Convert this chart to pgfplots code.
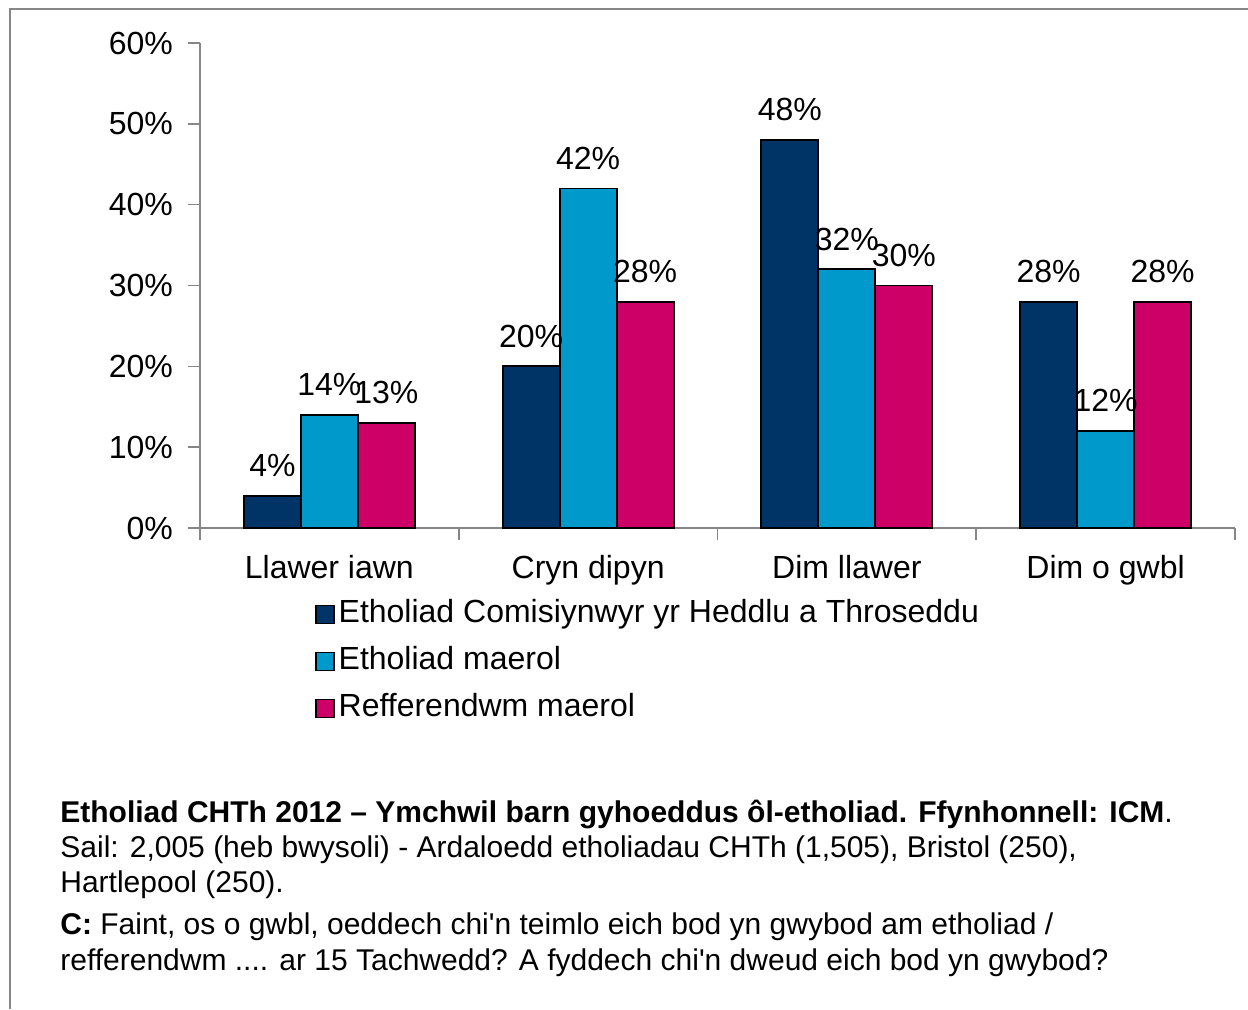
\documentclass[border=0pt]{standalone}
\usepackage{fontspec}
\setmainfont{Liberation Sans}
\newfontfamily\ftfont{Liberation Sans}
\usepackage{pgfplots}
\pgfplotsset{compat=1.18}
\definecolor{navyb}{RGB}{0,51,102}
\definecolor{cyanb}{RGB}{0,153,204}
\definecolor{magb}{RGB}{204,0,102}
\definecolor{axgray}{RGB}{134,134,134}
\pgfplotsset{
  sqbar/.style={fill=#1, draw=black, line width=0.9pt,
    legend image code/.code={\draw[fill=#1, draw=black, line width=0.8pt] (0pt,-4.5pt) rectangle (9pt,4.5pt);}},
}

\begin{document}
\begin{tikzpicture}
\path[use as bounding box] (0,0) rectangle (624pt,504.5pt);
\draw[axgray, line width=1pt] (5pt,0) -- (5pt,500pt) -- (624pt,500pt);

\begin{axis}[
  at={(100pt,240.5pt)}, anchor=south west,
  scale only axis, width=517.5pt, height=242.5pt,
  font=\fontsize{16}{19}\selectfont,
  ybar=0pt, bar width=28.5pt,
  xmin=-0.5, xmax=3.5, ymin=0, ymax=60,
  axis x line=bottom, axis y line=left,
  axis line style={axgray, -, line width=0.8pt},
  xtick={-0.5,0.5,1.5,2.5,3.5},
  xticklabels={},
  extra x ticks={0,1,2,3},
  extra x tick labels={Llawer iawn, Cryn dipyn, Dim llawer, Dim o gwbl},
  extra x tick style={major tick length=0pt, tick label style={yshift=-10pt}},
  ytick={0,10,...,60},
  yticklabel={\pgfmathparse{int(\tick)}\pgfmathresult\%},
  yticklabel style={xshift=-4pt},
  tick align=outside,
  major tick length=6pt,
  tick style={axgray, line width=0.8pt},
  /pgf/number format/assume math mode=true,
  nodes near coords={\pgfmathprintnumber{\pgfplotspointmeta}\%},
  nodes near coords style={font=\fontsize{16}{19}\selectfont, inner sep=0pt, anchor=south, yshift=9pt, text=black},
  legend style={at={(axis description cs:0.105,-0.132)}, anchor=north west,
    draw=none, fill=none, legend cell align=left, row sep=5.5pt,
    nodes={inner sep=2pt, text height=11pt, text depth=3pt},
    font=\fontsize{16}{19}\selectfont},
]
\addplot[sqbar=navyb] coordinates {(0,4) (1,20) (2,48) (3,28)};
\addplot[sqbar=cyanb] coordinates {(0,14) (1,42) (2,32) (3,12)};
\addplot[sqbar=magb] coordinates {(0,13) (1,28) (2,30) (3,28)};
\legend{Etholiad Comisiynwyr yr Heddlu a Throseddu, Etholiad maerol, Refferendwm maerol}
\end{axis}

\begin{scope}[every node/.style={anchor=base west, inner sep=0pt, font=\ftfont\fontsize{15}{18}\selectfont}]
\node at (30pt,93.25pt) {\textbf{Etholiad CHTh 2012 – Ymchwil barn gyhoeddus ôl-etholiad. Ffynhonnell: ICM}.};
\node at (30pt,75.75pt) {Sail: 2,005 (heb bwysoli) - Ardaloedd etholiadau CHTh (1,505), Bristol (250),};
\node at (30pt,58.25pt) {Hartlepool (250).};
\node at (30pt,37.25pt) {\textbf{C:} Faint, os o gwbl, oeddech chi'n teimlo eich bod yn gwybod am etholiad /};
\node at (30pt,19.25pt) {refferendwm .... ar 15 Tachwedd? A fyddech chi'n dweud eich bod yn gwybod?};
\end{scope}
\end{tikzpicture}
\end{document}
